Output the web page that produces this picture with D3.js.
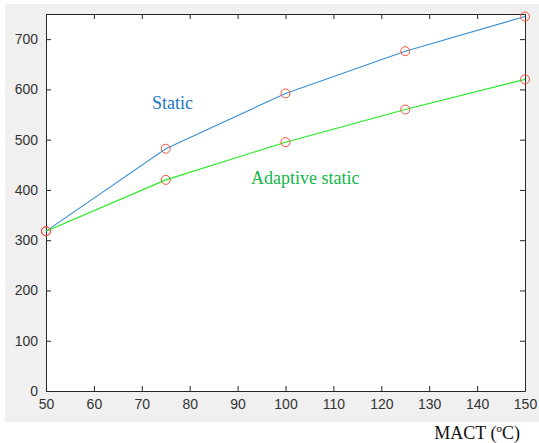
<!DOCTYPE html>
<html>
<head>
<meta charset="utf-8">
<script src="https://d3js.org/d3.v7.min.js"></script>
<style>
  body { margin: 0; background: #fff; }
</style>
</head>
<body>
<div id="container"></div>
<script>
let w = 539;
let h = 443;

// DATA
let mact = [50, 75, 100, 125, 150];
let staticVals = [318, 482, 592, 676, 745];
let adaptiveVals = [318, 420, 495, 560, 620];
let xTicks = [50, 60, 70, 80, 90, 100, 110, 120, 130, 140, 150];
let yTicks = [0, 100, 200, 300, 400, 500, 600, 700];

let padL = 46, padR = 525, padT = 14, padB = 391;

let viz = d3.select("#container").append("svg")
    .attr("width", w)
    .attr("height", h)
    .style("display", "block");

// grey figure background
viz.append("rect")
    .attr("x", 5).attr("y", 4)
    .attr("width", w - 5).attr("height", 418)
    .attr("fill", "#f0f0f0");

// axes area
viz.append("rect")
    .attr("x", padL).attr("y", padT)
    .attr("width", padR - padL).attr("height", padB - padT)
    .attr("fill", "#fff");

let xScale = d3.scaleLinear().domain([50, 150]).range([padL, padR]);
let yScale = d3.scaleLinear().domain([0, 750]).range([padB, padT]);

function styleAxis(g, showLabels) {
  g.select(".domain").attr("stroke", "#262626");
  g.selectAll(".tick line").attr("stroke", "#262626");
  g.selectAll(".tick text")
    .attr("fill", "#333")
    .style("font-family", "Arial, 'Liberation Sans', sans-serif")
    .style("font-size", "14px");
  if (!showLabels) g.selectAll(".tick text").remove();
}

// bottom / left with labels, ticks inward
viz.append("g")
    .attr("transform", "translate(0," + padB + ")")
    .call(d3.axisBottom(xScale).tickValues(xTicks).tickSizeInner(-5).tickSizeOuter(0).tickPadding(8))
    .call(g => styleAxis(g, true));

viz.append("g")
    .attr("transform", "translate(" + padL + ",0)")
    .call(d3.axisLeft(yScale).tickValues(yTicks).tickSizeInner(-5).tickSizeOuter(0).tickPadding(8))
    .call(g => styleAxis(g, true));

// top / right box lines
viz.append("g")
    .attr("transform", "translate(0," + padT + ")")
    .call(d3.axisTop(xScale).tickValues(xTicks).tickSizeInner(-5).tickSizeOuter(0))
    .call(g => styleAxis(g, false));

viz.append("g")
    .attr("transform", "translate(" + padR + ",0)")
    .call(d3.axisRight(yScale).tickValues(yTicks).tickSizeInner(-5).tickSizeOuter(0))
    .call(g => styleAxis(g, false));

let lineMaker = d3.line()
    .x(function(d){ return xScale(d[0]); })
    .y(function(d){ return yScale(d[1]); });

let staticPts = mact.map(function(m, i){ return [m, staticVals[i]]; });
let adaptivePts = mact.map(function(m, i){ return [m, adaptiveVals[i]]; });

viz.append("path")
    .attr("d", lineMaker(staticPts))
    .attr("fill", "none")
    .attr("stroke", "#3a8fd0")
    .attr("stroke-width", 1.1);

viz.append("path")
    .attr("d", lineMaker(adaptivePts))
    .attr("fill", "none")
    .attr("stroke", "#22ee22")
    .attr("stroke-width", 1.1);

// markers
viz.selectAll(".mark").data(staticPts.concat(adaptivePts)).enter()
  .append("circle")
    .attr("class", "mark")
    .attr("cx", function(d){ return xScale(d[0]); })
    .attr("cy", function(d){ return yScale(d[1]); })
    .attr("r", 4.5)
    .attr("fill", "none")
    .attr("stroke", "#f5503a")
    .attr("stroke-width", 1);

// labels
viz.append("text")
    .attr("x", 152).attr("y", 109)
    .text("Static")
    .attr("fill", "#1b77c4")
    .style("font-family", "'Liberation Serif', 'Times New Roman', serif")
    .style("font-size", "18px");

viz.append("text")
    .attr("x", 251).attr("y", 184)
    .text("Adaptive static")
    .attr("fill", "#12b84a")
    .style("font-family", "'Liberation Serif', 'Times New Roman', serif")
    .style("font-size", "18px");

viz.append("text")
    .attr("x", 520).attr("y", 439)
    .attr("text-anchor", "end")
    .text("MACT (ºC)")
    .attr("fill", "#111")
    .style("font-family", "'Liberation Serif', 'Times New Roman', serif")
    .style("font-size", "18px");
</script>
</body>
</html>
